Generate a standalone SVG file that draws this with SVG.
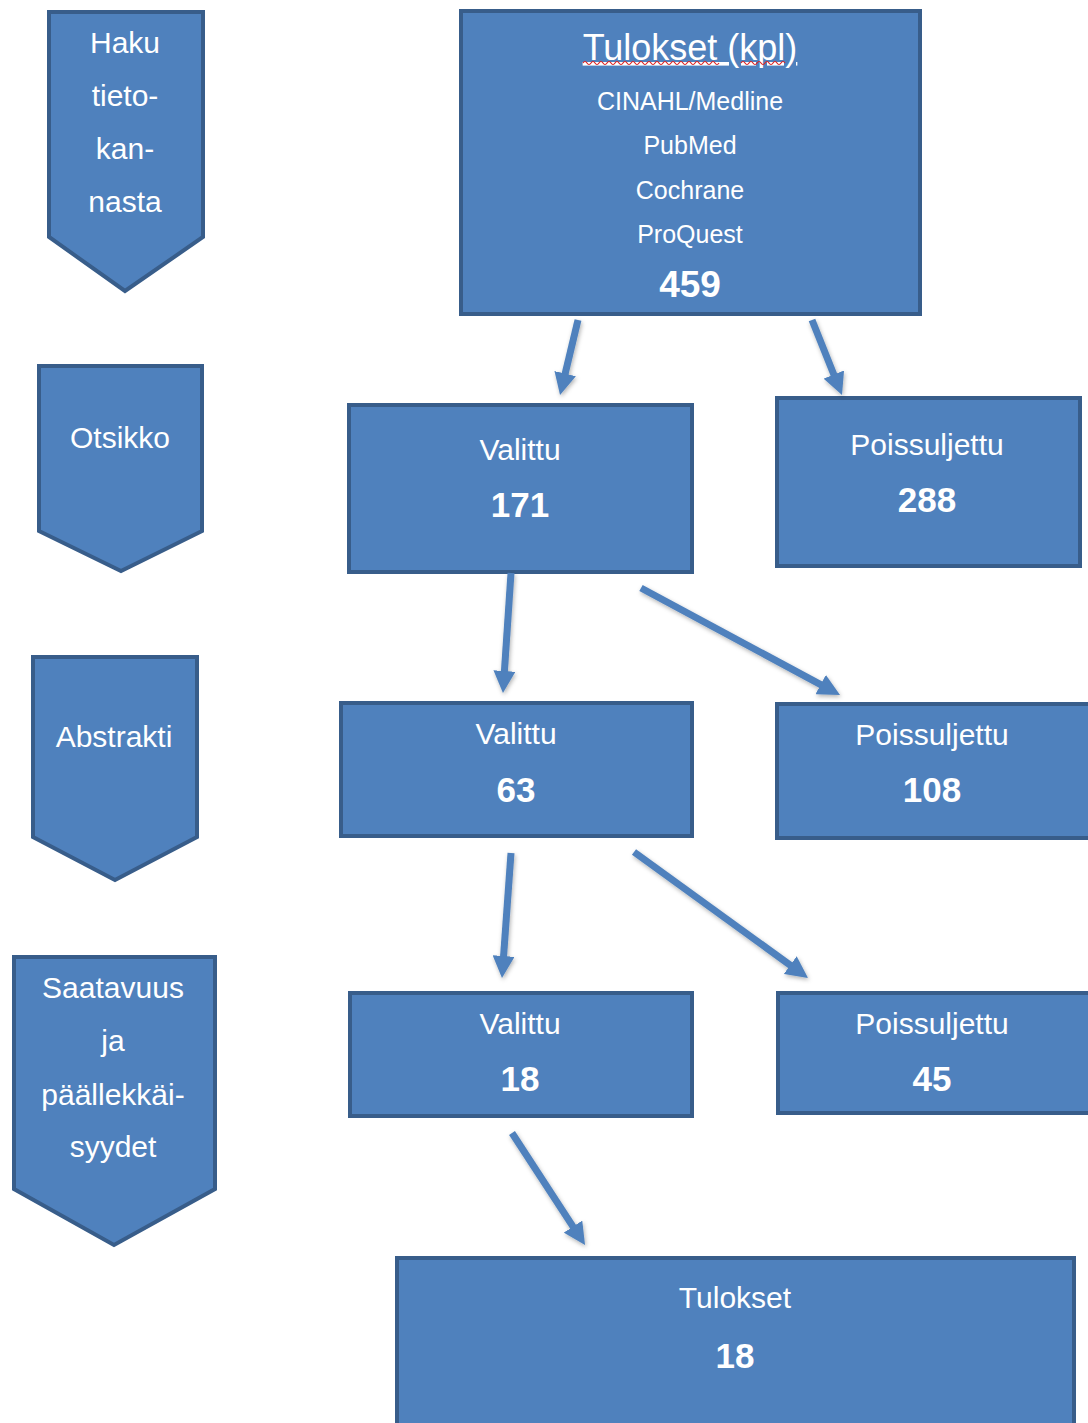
<svg xmlns="http://www.w3.org/2000/svg" width="1088" height="1423" viewBox="0 0 1088 1423">
<style>
.shape{fill:#4F81BD;stroke:#385D8A;stroke-width:4;stroke-linejoin:miter}
text{font-family:"Liberation Sans",Arial,sans-serif;fill:#FFFFFF;text-anchor:middle}
.lbl{font-size:30px}
.src{font-size:25px}
.num{font-size:35px;font-weight:bold}
.conn line{stroke:#4F81BD;stroke-width:7;marker-end:url(#head)}
</style>
<defs>
<marker id="head" markerUnits="userSpaceOnUse" viewBox="0 0 22 22" markerWidth="22" markerHeight="22" refX="8" refY="11" orient="auto">
<path d="M0,0 L22,11 L0,22 Z" fill="#4F81BD"/>
</marker>
<filter id="sh" x="-20%" y="-20%" width="140%" height="140%">
<feDropShadow dx="1" dy="2" stdDeviation="2" flood-color="#000" flood-opacity="0.3"/>
</filter>
</defs>
<rect width="1088" height="1423" fill="#FFFFFF"/>

<g id="step-haku">
<path class="shape" d="M49,12 H203 V237 L125,291 L49,237 Z"/>
<text class="lbl" x="125" y="53">Haku</text>
<text class="lbl" x="125" y="106">tieto-</text>
<text class="lbl" x="125" y="159">kan-</text>
<text class="lbl" x="125" y="212">nasta</text>
</g>

<g id="step-otsikko">
<path class="shape" d="M39,366 H202 V531 L121,571 L39,531 Z"/>
<text class="lbl" x="120" y="448">Otsikko</text>
</g>

<g id="step-abstrakti">
<path class="shape" d="M33,657 H197 V837 L115,880 L33,837 Z"/>
<text class="lbl" x="114" y="747">Abstrakti</text>
</g>

<g id="step-saatavuus">
<path class="shape" d="M14,957 H215 V1189 L114,1245 L14,1189 Z"/>
<text class="lbl" x="113" y="998">Saatavuus</text>
<text class="lbl" x="113" y="1051">ja</text>
<text class="lbl" x="113" y="1105">päällekkäi-</text>
<text class="lbl" x="113" y="1157">syydet</text>
</g>

<g id="tulokset-kpl">
<rect class="shape" x="461" y="11" width="459" height="303"/>
<text x="690" y="60" style="font-size:36px" text-decoration="underline">Tulokset (kpl)</text>
<path d="M583,63 q2,-3 4,0 t4,0 t4,0 t4,0 t4,0 t4,0 t4,0 t4,0 t4,0 t4,0 t4,0 t4,0 t4,0 t4,0 t4,0 t4,0 t4,0 t4,0 t4,0 t4,0 t4,0 t4,0 t4,0 t4,0 t4,0 t4,0 t4,0 t4,0 t4,0 t4,0 t4,0 t4,0 t4,0 t4,0" fill="none" stroke="#E02020" stroke-width="1.2"/>
<path d="M741,63 q2,-3 4,0 t4,0 t4,0 t4,0 t4,0 t4,0 t4,0 t4,0 t4,0 t4,0 t4,0" fill="none" stroke="#E02020" stroke-width="1.2"/>
<text class="src" x="690" y="110">CINAHL/Medline</text>
<text class="src" x="690" y="154">PubMed</text>
<text class="src" x="690" y="199">Cochrane</text>
<text class="src" x="690" y="243">ProQuest</text>
<text class="num" x="690" y="297" style="font-size:37px">459</text>
</g>

<g id="valittu-171">
<rect class="shape" x="349" y="405" width="343" height="167"/>
<text class="lbl" x="520" y="460">Valittu</text>
<text class="num" x="520" y="517">171</text>
</g>

<g id="poissuljettu-288">
<rect class="shape" x="777" y="398" width="303" height="168"/>
<text class="lbl" x="927" y="455">Poissuljettu</text>
<text class="num" x="927" y="512">288</text>
</g>

<g id="valittu-63">
<rect class="shape" x="341" y="703" width="351" height="133"/>
<text class="lbl" x="516" y="744">Valittu</text>
<text class="num" x="516" y="802">63</text>
</g>

<g id="poissuljettu-108">
<rect class="shape" x="777" y="704" width="320" height="134"/>
<text class="lbl" x="932" y="745">Poissuljettu</text>
<text class="num" x="932" y="802">108</text>
</g>

<g id="valittu-18">
<rect class="shape" x="350" y="993" width="342" height="123"/>
<text class="lbl" x="520" y="1034">Valittu</text>
<text class="num" x="520" y="1091">18</text>
</g>

<g id="poissuljettu-45">
<rect class="shape" x="778" y="993" width="320" height="120"/>
<text class="lbl" x="932" y="1034">Poissuljettu</text>
<text class="num" x="932" y="1091">45</text>
</g>

<g id="tulokset-18">
<rect class="shape" x="397" y="1258" width="677" height="180"/>
<text class="lbl" x="735" y="1308">Tulokset</text>
<text class="num" x="735" y="1368">18</text>
</g>

<g id="connectors" class="conn" filter="url(#sh)">
<line x1="578" y1="320" x2="563.3" y2="381.4"/>
<line x1="812" y1="320" x2="836.8" y2="382"/>
<line x1="511" y1="573" x2="503.9" y2="679"/>
<line x1="641" y1="588" x2="827.7" y2="688.4"/>
<line x1="511" y1="853" x2="503" y2="964"/>
<line x1="634" y1="852" x2="796.7" y2="969.8"/>
<line x1="512" y1="1133" x2="577.4" y2="1233.3"/>
</g>
</svg>
